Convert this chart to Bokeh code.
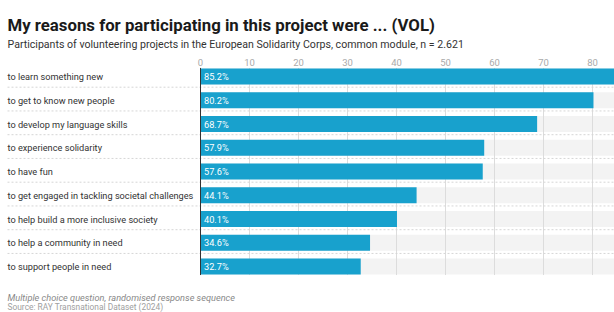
from bokeh.plotting import figure
from bokeh.models import Range1d, ColumnDataSource
from bokeh.core.properties import value
from bokeh.embed import file_html
from bokeh.resources import INLINE

# ---- data ----
categories = [
    "to learn something new",
    "to get to know new people",
    "to develop my language skills",
    "to experience solidarity",
    "to have fun",
    "to get engaged in tackling societal challenges",
    "to help build a more inclusive society",
    "to help a community in need",
    "to support people in need",
]
values = [85.2, 80.2, 68.7, 57.9, 57.6, 44.1, 40.1, 34.6, 32.7]
ticks = [0, 10, 20, 30, 40, 50, 60, 70, 80]
title = "My reasons for participating in this project were ... (VOL)"
subtitle = "Participants of volunteering projects in the European Solidarity Corps, common module, n = 2.621"
note = "Multiple choice question, randomised response sequence"
source = "Source: RAY Transnational Dataset (2024)"

# ---- layout ----
W, H = 614, 312
X0PX = 200.0      # pixel of value 0
PXU = 4.9         # pixels per unit
Y0PX = 76.0       # pixel of first row centre
ROW = 23.75       # pixels per row

def px2x(px):
    return (px - X0PX) / PXU

def px2y(py):
    return (py - Y0PX) / ROW

XMAX = px2x(W)
FONT = value("Roboto")
LEFT = px2x(7)

p = figure(width=W, height=H, output_backend="svg", toolbar_location=None,
           x_range=Range1d(px2x(0), XMAX), y_range=Range1d(px2y(H), px2y(0)),
           min_border=0)
p.axis.visible = False
p.grid.visible = False
p.outline_line_color = None
p.background_fill_color = "white"
p.border_fill_color = "white"

n = len(categories)
rows = list(range(n))
src = ColumnDataSource(dict(y=rows, v=values, cat=categories,
                            lab=[f"{v:.1f}%" for v in values],
                            right=[XMAX] * n))
BAR_H = 16 / ROW

# background bars
p.hbar(y="y", left=0, right="right", height=BAR_H, source=src,
       fill_color="#f3f3f3", line_color=None)

# vertical grid lines
g_top, g_bot = -0.36, n - 1 + 0.36
p.segment(x0=ticks[1:], x1=ticks[1:], y0=[g_top] * (len(ticks) - 1),
          y1=[g_bot] * (len(ticks) - 1), line_color="#dcdcdc", line_width=1)

# separators
sep = [i + 0.45 for i in range(n - 1)]
p.segment(x0=[LEFT] * len(sep), x1=[XMAX] * len(sep), y0=sep, y1=sep,
          line_color="#d6d6d6", line_width=1, line_dash="2 2")

# bars
p.hbar(y="y", left=0, right="v", height=BAR_H, source=src,
       fill_color="#18a1cd", line_color=None)

# zero line
p.segment(x0=[0], x1=[0], y0=[g_top], y1=[g_bot], line_color="#333333", line_width=1)

# tick labels
p.text(x=ticks, y=[px2y(62)] * len(ticks), text=[str(t) for t in ticks],
       text_font=FONT, text_font_size="9.5px", text_color="#aaaaaa",
       text_align="center", text_baseline="alphabetic")

# category labels
p.text(x=LEFT, y="y", text="cat", source=src, text_font=FONT,
       text_font_size="9.2px", text_color="#333333", text_align="left",
       text_baseline="middle")

# value labels
p.text(x=0, y="y", text="lab", source=src, x_offset=3.5, text_font=FONT,
       text_font_size="9.2px", text_color="white", text_align="left",
       text_baseline="middle")

# titles and notes
p.text(x=[LEFT], y=[px2y(24)], text=[title], text_font=FONT,
       text_font_size="16.8px", text_font_style="bold", text_color="#1a1a1a",
       text_baseline="alphabetic")
p.text(x=[LEFT], y=[px2y(44)], text=[subtitle], text_font=FONT,
       text_font_size="10.6px", text_color="#333333", text_baseline="alphabetic")
p.text(x=[LEFT], y=[px2y(297)], text=[note], text_font=FONT,
       text_font_size="9.2px", text_font_style="italic", text_color="#888888",
       text_baseline="alphabetic")
p.text(x=[LEFT], y=[px2y(306.5)], text=[source], text_font=FONT,
       text_font_size="8.4px", text_color="#a0a0a0", text_baseline="alphabetic")

open("out.html", "w").write(file_html(p, INLINE))
